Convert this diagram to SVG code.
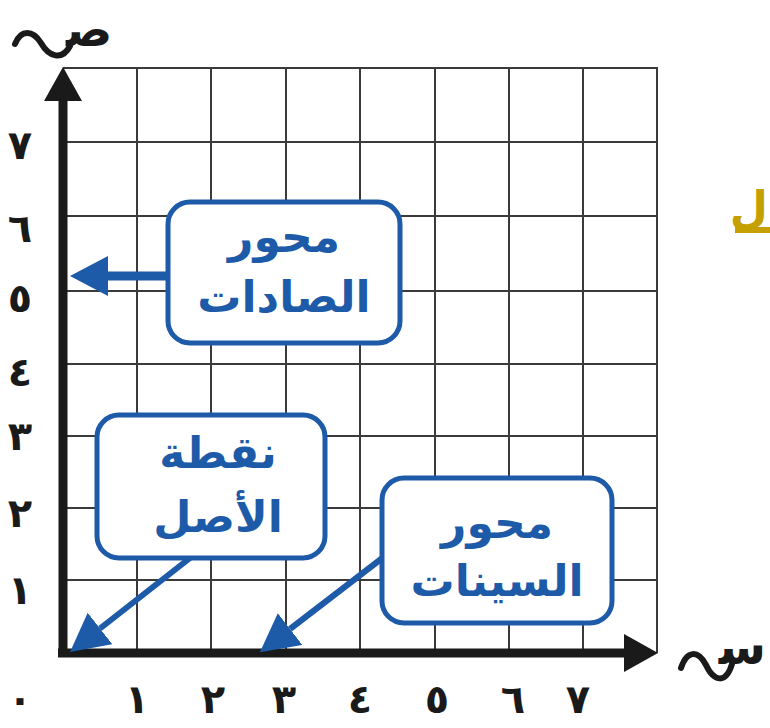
<svg xmlns="http://www.w3.org/2000/svg" width="770" height="728" viewBox="0 0 770 728">
  <style>
    .grid { stroke: #3a3a3a; stroke-width: 2; fill: none; }
    .axis { stroke: #1a1a1a; stroke-width: 9; fill: none; }
    .num { font-family: "DejaVu Sans", sans-serif; font-weight: bold; font-size: 40px; fill: #1a1a1a; text-anchor: middle; }
    .box { fill: #ffffff; stroke: #1d5aa8; stroke-width: 5; }
    .lbl { font-family: "DejaVu Sans", sans-serif; font-weight: bold; font-size: 44px; fill: #1d5aa8; text-anchor: middle; }
    .conn { stroke: #1d5aa8; fill: none; }
    .wave { stroke: #1a1a1a; stroke-width: 6; fill: none; stroke-linecap: round; }
    .axlbl { font-family: "DejaVu Sans", sans-serif; font-weight: bold; font-size: 48px; fill: #1a1a1a; }
  </style>
  <defs>
    <marker id="blueHead" markerUnits="userSpaceOnUse" viewBox="0 0 38 40" markerWidth="38" markerHeight="40" refX="0" refY="20" orient="auto">
      <path d="M0,0 L38,20 L0,40 Z" fill="#1d5aa8"/>
    </marker>
    <marker id="axisHead" markerUnits="userSpaceOnUse" viewBox="0 0 34 38" markerWidth="34" markerHeight="38" refX="0" refY="19" orient="auto">
      <path d="M0,0 L34,19 L0,38 Z" fill="#1a1a1a"/>
    </marker>
  </defs>
  <rect width="770" height="728" fill="#ffffff"/>

  <g id="grid">
    <path class="grid" d="M63,68 H657 V653 M137,68 V653 M211,68 V653 M286,68 V653 M360,68 V653 M435,68 V653 M509,68 V653 M583,68 V653 M63,142 H657 M63,216 H657 M63,291 H657 M63,364 H657 M63,436 H657 M63,508 H657 M63,580 H657"/>
  </g>

  <g id="axes">
    <line class="axis" x1="63" y1="657" x2="63" y2="101" marker-end="url(#axisHead)"/>
    <line class="axis" x1="58" y1="653" x2="624" y2="653" marker-end="url(#axisHead)"/>
    <g id="y-label">
      <path class="wave" d="M15,44 C21,29 33,30 41,43 C49,57 62,61 70,46"/>
      <text class="axlbl" x="66" y="46">ص&#x200D;</text>
    </g>
    <g id="x-label">
      <path class="wave" d="M681,668 C687,650 698,650 706,665 C714,682 726,684 732,664"/>
      <text class="axlbl" x="766" y="664" text-anchor="end" font-size="44">س&#x200D;</text>
    </g>
  </g>

  <g id="y-numbers">
    <text class="num" x="20" y="159">٧</text>
    <text class="num" x="20" y="242">٦</text>
    <text class="num" x="20" y="312">٥</text>
    <text class="num" x="20" y="386">٤</text>
    <text class="num" x="20" y="450">٣</text>
    <text class="num" x="20" y="527">٢</text>
    <text class="num" x="20" y="604">١</text>
  </g>
  <g id="x-numbers">
    <text class="num" x="20" y="713">٠</text>
    <text class="num" x="137" y="713">١</text>
    <text class="num" x="213" y="713">٢</text>
    <text class="num" x="284" y="713">٣</text>
    <text class="num" x="360" y="713">٤</text>
    <text class="num" x="437" y="713">٥</text>
    <text class="num" x="513" y="713">٦</text>
    <text class="num" x="578" y="713">٧</text>
  </g>

  <g id="connectors">
    <line class="conn" stroke-width="9" x1="168" y1="276" x2="108" y2="276" marker-end="url(#blueHead)"/>
    <line class="conn" stroke-width="6" x1="190" y1="558" x2="100" y2="628.5" marker-end="url(#blueHead)"/>
    <line class="conn" stroke-width="6" x1="385" y1="556" x2="290" y2="629" marker-end="url(#blueHead)"/>
  </g>

  <g id="node-y-axis">
    <rect class="box" x="168" y="202" width="232" height="141" rx="22"/>
    <text class="lbl" x="284" y="252">محور</text>
    <text class="lbl" x="284" y="312">الصادات</text>
  </g>
  <g id="node-origin">
    <rect class="box" x="97" y="415" width="228" height="143" rx="22"/>
    <text class="lbl" x="218" y="468">نقطة</text>
    <text class="lbl" x="218" y="532">الأصل</text>
  </g>
  <g id="node-x-axis">
    <rect class="box" x="382" y="478" width="230" height="145" rx="22"/>
    <text class="lbl" x="497" y="538">محور</text>
    <text class="lbl" x="497" y="596">السينات</text>
  </g>

  <g id="fragment">
    <text x="768" y="222" text-anchor="end" font-family="DejaVu Sans, sans-serif" font-weight="bold" font-size="44" fill="#c4a000">ل</text>
    <rect x="735" y="227" width="35" height="6" fill="#c4a000"/>
  </g>
</svg>
